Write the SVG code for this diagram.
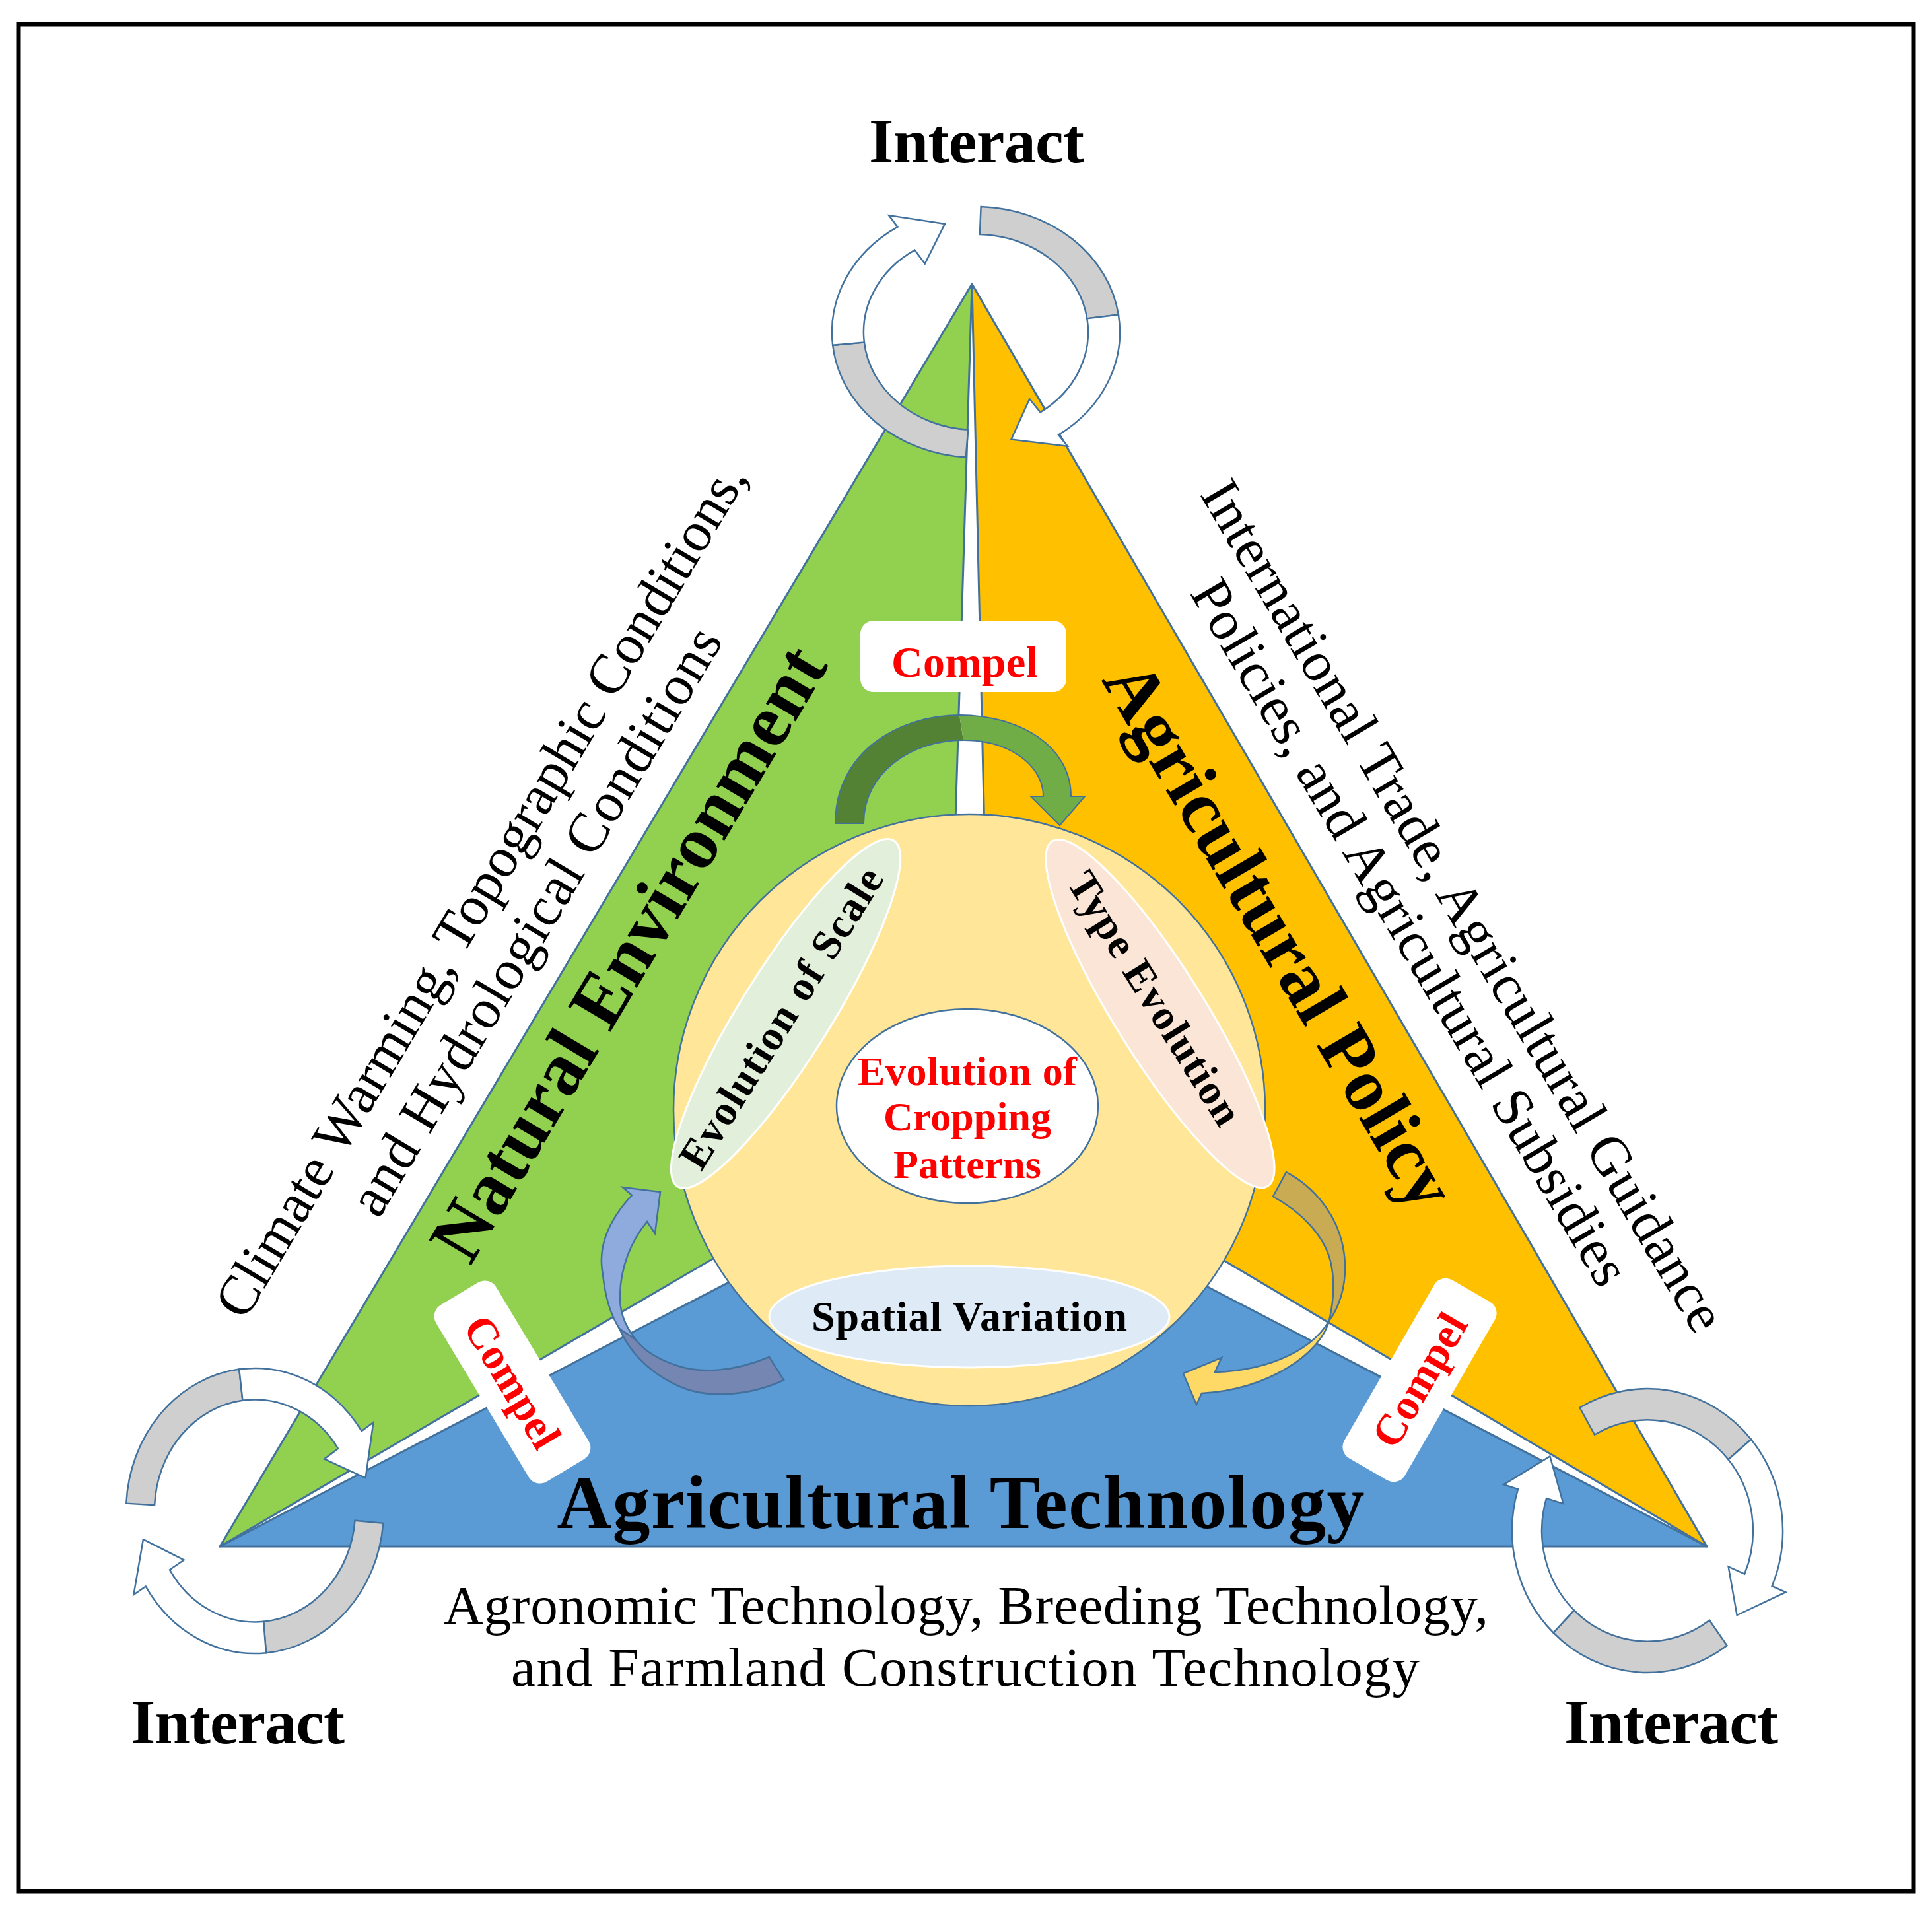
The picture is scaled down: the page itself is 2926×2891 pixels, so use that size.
<svg xmlns="http://www.w3.org/2000/svg" width="2926" height="2891" viewBox="0 0 2926 2891">
<defs>
<style>
.t{font-family:"Liberation Serif","Times New Roman",serif;fill:#000;}
.b{font-weight:bold;}
.red{fill:#FF0000;}
.ol{stroke:#41719C;stroke-width:3;stroke-linejoin:round;}
.lp{stroke:#41719C;stroke-width:2.5;vector-effect:non-scaling-stroke;stroke-linejoin:miter;}
.ar{stroke:#41719C;stroke-width:2.5;stroke-linejoin:miter;}
</style>
<g id="loopArrow">
<path class="lp" fill="#CFCFCF" d="M200,0 A200,200 0 0 1 34.73,196.96 L27.09,153.63 A156,156 0 0 0 156,0 Z"/>
<path class="lp" fill="#FFFFFF" d="M34.73,196.96 A200,200 0 0 1 -159.73,120.36 L-177.30,133.60 L-169.29,55.01 L-103.82,78.24 L-124.59,93.88 A156,156 0 0 0 27.09,153.63 Z"/>
</g>
</defs>

<rect x="0" y="0" width="2926" height="2891" fill="#FFFFFF"/>
<rect x="28" y="37" width="2870" height="2827" fill="none" stroke="#000000" stroke-width="7"/>

<g id="natural-environment">
<polygon class="ol" points="1472,430 333,2342 1433,1700" fill="#92D050"/>
<text class="t b" x="984" y="1463" font-size="114" text-anchor="middle" textLength="1060" transform="rotate(-59.2 984 1463)">Natural Environment</text>
<text class="t" x="752" y="1362" font-size="85" text-anchor="middle" textLength="1490" transform="rotate(-59.2 752 1362)">Climate Warming, Topographic Conditions,</text>
<text class="t" x="835" y="1409" font-size="85" text-anchor="middle" textLength="1020" transform="rotate(-59.2 835 1409)">and Hydrological Conditions</text>
</g>

<g id="agricultural-policy">
<polygon class="ol" points="1472,430 2585,2342 1501,1700" fill="#FFC000"/>
<text class="t b" x="1906" y="1435" font-size="114" text-anchor="middle" textLength="940" transform="rotate(59.5 1906 1435)">Agricultural Policy</text>
<text class="t" x="2192" y="1386" font-size="85" text-anchor="middle" textLength="1480" transform="rotate(59.5 2192 1386)">International Trade, Agricultural Guidance</text>
<text class="t" x="2112" y="1426" font-size="85" text-anchor="middle" textLength="1225" transform="rotate(59.5 2112 1426)">Policies, and Agricultural Subsidies</text>
</g>

<g id="agricultural-technology">
<polygon class="ol" points="333,2342 2585,2342 1460,1757" fill="#5B9BD5"/>
<text class="t b" x="1455" y="2314" font-size="114" text-anchor="middle" textLength="1223">Agricultural Technology</text>
<text class="t" x="1463" y="2459" font-size="83" text-anchor="middle" textLength="1582">Agronomic Technology, Breeding Technology,</text>
<text class="t" x="1462" y="2553" font-size="83" text-anchor="middle" textLength="1376">and Farmland Construction Technology</text>
</g>

<g id="connectors">
<g id="compel-arrow-top">
<path fill="#548235" d="M1265,1247 C1265,1140 1360,1083 1453,1083 L1459,1121 C1380,1121 1308,1170 1308,1247 Z"/>
<path fill="#70AD47" d="M1453,1083 C1545,1083 1622,1130 1622,1206 L1643,1206 L1605,1250 L1561,1206 L1580,1206 C1580,1160 1530,1121 1459,1121 Z"/>
<path fill="none" stroke="#41719C" stroke-width="2" d="M1265,1247 C1265,1140 1360,1083 1453,1083 C1545,1083 1622,1130 1622,1206 L1643,1206 L1605,1250 L1561,1206 L1580,1206 C1580,1160 1530,1121 1459,1121 C1380,1121 1308,1170 1308,1247 Z"/>
</g>
<g id="compel-arrow-left">
<path class="ar" fill="#7686B2" d="M938,2012 C955,2050 985,2080 1030,2100 C1075,2120 1140,2112 1187,2090 L1165,2055 C1110,2078 1060,2080 1025,2068 C995,2058 975,2045 962,2028 Z"/>
<path class="ar" fill="#8FAADC" d="M957,1810 C920,1850 905,1890 913,1930 C916,1960 924,1990 938,2012 L962,2028 C945,2005 938,1985 939,1960 C940,1920 955,1880 980,1850 L992,1868 L1000,1805 L943,1798 Z"/>
</g>
<g id="compel-arrow-right">
<path class="ar" fill="#C9AB53" d="M1948,1775 C1995,1800 2035,1850 2037,1915 C2038,1950 2028,1980 2013,2000 C2020,1970 2022,1940 2015,1910 C2005,1870 1970,1835 1928,1812 Z"/>
<path class="ar" fill="#FFD966" d="M2013,2000 C2000,2050 1920,2105 1820,2110 L1812,2127 L1792,2080 L1850,2056 L1840,2078 C1930,2075 1990,2040 2013,2000 Z"/>
</g>
<g id="interact-loop-top">
<use href="#loopArrow" transform="translate(1478,503) scale(1.09,0.95) rotate(94)"/>
<use href="#loopArrow" transform="translate(1478,503) scale(1.09,0.95) rotate(272)"/>
</g>
<g id="interact-loop-left">
<use href="#loopArrow" transform="translate(386,2288) scale(0.975,1.08) rotate(183)"/>
<use href="#loopArrow" transform="translate(386,2288) scale(0.975,1.08) rotate(5)"/>
</g>
<g id="interact-loop-right">
<use href="#loopArrow" transform="translate(2495,2318) scale(1.025,1.075) rotate(240)"/>
<use href="#loopArrow" transform="translate(2495,2318) scale(1.025,1.075) rotate(54)"/>
</g>
</g>

<g id="cropping-patterns">
<circle cx="1468" cy="1681" r="448" fill="#FFE699" stroke="#41719C" stroke-width="2.5"/>
</g>

<g id="evolution-of-scale">
<ellipse cx="1190" cy="1535" rx="309" ry="68" fill="#E2EFDA" stroke="#FFFFFF" stroke-width="3" transform="rotate(-58 1190 1535)"/>
<text class="t b" x="1201" y="1553" font-size="64" text-anchor="middle" textLength="525" transform="rotate(-58 1201 1553)">Evolution of Scale</text>
</g>

<g id="type-evolution">
<ellipse cx="1757" cy="1535" rx="308" ry="68" fill="#FBE5D6" stroke="#FFFFFF" stroke-width="3" transform="rotate(58 1757 1535)"/>
<text class="t b" x="1731" y="1523" font-size="64" text-anchor="middle" textLength="440" transform="rotate(58 1731 1523)">Type Evolution</text>
</g>

<g id="spatial-variation">
<ellipse cx="1468" cy="1994" rx="303" ry="77" fill="#DEEBF7" stroke="#FFFFFF" stroke-width="3"/>
<text class="t b" x="1468" y="2015" font-size="64" text-anchor="middle" textLength="478">Spatial Variation</text>
</g>

<g id="evolution-of-cropping-patterns">
<ellipse cx="1465" cy="1675" rx="198" ry="147" fill="#FFFFFF" stroke="#41719C" stroke-width="2.5"/>
<text class="t b red" x="1465" y="1643" font-size="62" text-anchor="middle" textLength="332">Evolution of</text>
<text class="t b red" x="1465" y="1712" font-size="62" text-anchor="middle">Cropping</text>
<text class="t b red" x="1465" y="1784" font-size="62" text-anchor="middle">Patterns</text>
</g>

<g id="compel-top">
<rect x="1303" y="940" width="312" height="108" rx="20" fill="#FFFFFF"/>
<text class="t b red" x="1461" y="1025" font-size="66" text-anchor="middle" textLength="222">Compel</text>
</g>
<g id="compel-left" transform="translate(776,2093) rotate(59)">
<rect x="-156" y="-53" width="312" height="106" rx="20" fill="#FFFFFF"/>
<text class="t b red" x="0" y="22" font-size="66" text-anchor="middle" textLength="222">Compel</text>
</g>
<g id="compel-right" transform="translate(2150,2090) rotate(-60)">
<rect x="-156" y="-53" width="312" height="106" rx="20" fill="#FFFFFF"/>
<text class="t b red" x="0" y="22" font-size="66" text-anchor="middle" textLength="222">Compel</text>
</g>

<g id="interact-top"><text class="t b" x="1479" y="246" font-size="96" text-anchor="middle" textLength="326">Interact</text></g>
<g id="interact-left"><text class="t b" x="360" y="2640" font-size="96" text-anchor="middle" textLength="324">Interact</text></g>
<g id="interact-right"><text class="t b" x="2531" y="2640" font-size="96" text-anchor="middle" textLength="324">Interact</text></g>
</svg>
